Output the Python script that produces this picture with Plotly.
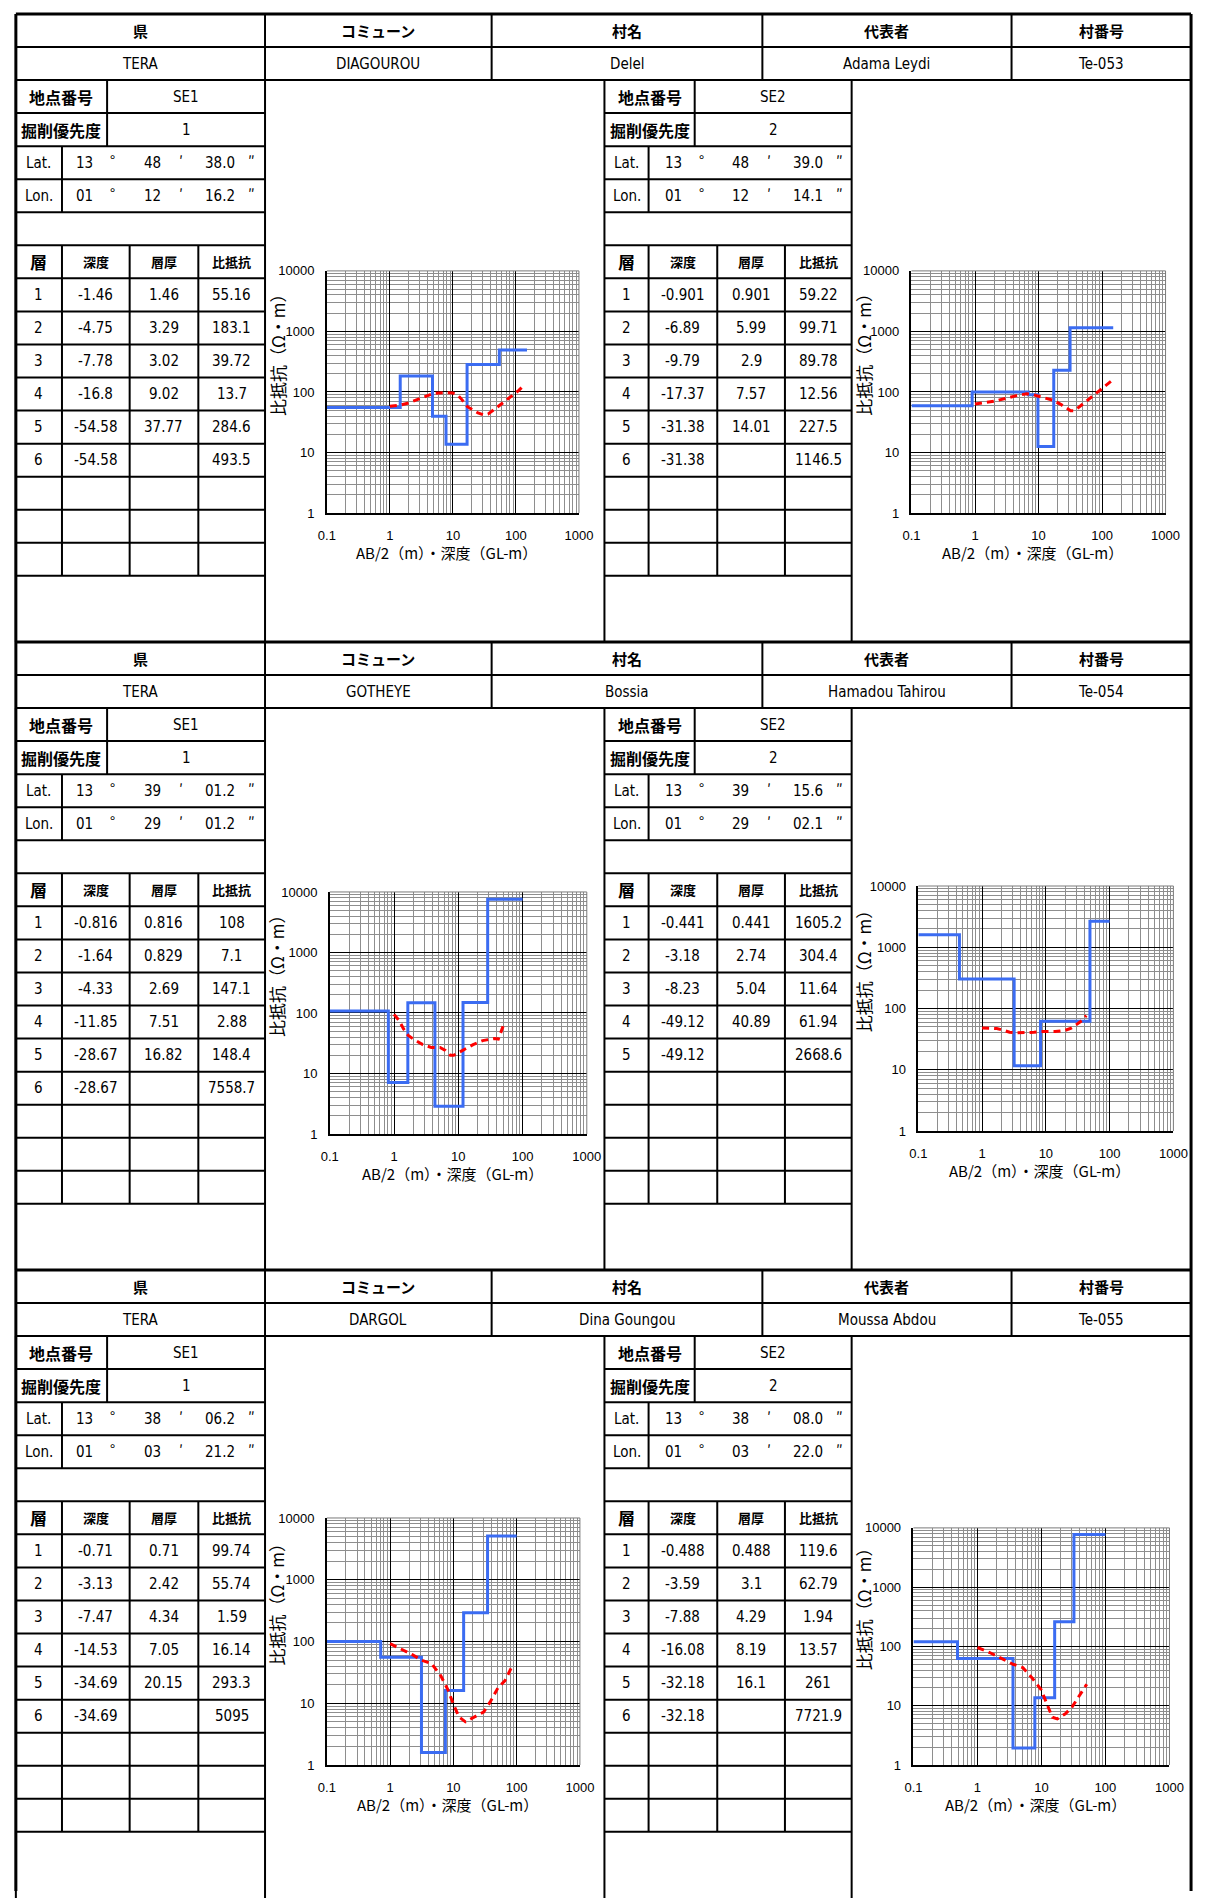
import plotly.graph_objects as go

W, H = 1208, 1899

# ---------------- sheet header values (one per village) ----------------
PREFECTURE = ["TERA", "TERA", "TERA"]
COMMUNE = ["DIAGOUROU", "GOTHEYE", "DARGOL"]
VILLAGE = ["Delel", "Bossia", "Dina Goungou"]
REPRESENTATIVE = ["Adama Leydi", "Hamadou Tahirou", "Moussa Abdou"]
VILLAGE_NO = ["Te-053", "Te-054", "Te-055"]
HEAD_LABELS = ["県", "コミューン", "村名", "代表者", "村番号"]

# ---------------- sounding points: Te-053 SE1/SE2, Te-054 SE1/SE2, Te-055 SE1/SE2 ----------------
SITE = ["SE1", "SE2", "SE1", "SE2", "SE1", "SE2"]
PRIORITY = [1, 2, 1, 2, 1, 2]
LAT = [("13", "48", "38.0"), ("13", "48", "39.0"),
       ("13", "39", "01.2"), ("13", "39", "15.6"),
       ("13", "38", "06.2"), ("13", "38", "08.0")]
LON = [("01", "12", "16.2"), ("01", "12", "14.1"),
       ("01", "29", "01.2"), ("01", "29", "02.1"),
       ("01", "03", "21.2"), ("01", "03", "22.0")]

# layered-earth model: depth (GL-m), thickness (m), resistivity (ohm-m)
DEPTH = [
    [-1.46, -4.75, -7.78, -16.8, -54.58, -54.58],
    [-0.901, -6.89, -9.79, -17.37, -31.38, -31.38],
    [-0.816, -1.64, -4.33, -11.85, -28.67, -28.67],
    [-0.441, -3.18, -8.23, -49.12, -49.12],
    [-0.71, -3.13, -7.47, -14.53, -34.69, -34.69],
    [-0.488, -3.59, -7.88, -16.08, -32.18, -32.18],
]
THICKNESS = [
    [1.46, 3.29, 3.02, 9.02, 37.77, None],
    [0.901, 5.99, 2.9, 7.57, 14.01, None],
    [0.816, 0.829, 2.69, 7.51, 16.82, None],
    [0.441, 2.74, 5.04, 40.89, None],
    [0.71, 2.42, 4.34, 7.05, 20.15, None],
    [0.488, 3.1, 4.29, 8.19, 16.1, None],
]
RESISTIVITY = [
    [55.16, 183.1, 39.72, 13.7, 284.6, 493.5],
    [59.22, 99.71, 89.78, 12.56, 227.5, 1146.5],
    [108, 7.1, 147.1, 2.88, 148.4, 7558.7],
    [1605.2, 304.4, 11.64, 61.94, 2668.6],
    [99.74, 55.74, 1.59, 16.14, 293.3, 5095],
    [119.6, 62.79, 1.94, 13.57, 261, 7721.9],
]
AB2_MAX = [150, 150, 100, 100, 100, 100]

# measured apparent resistivity curves (AB/2 in m, rho_a in ohm-m)
AB2 = [
    [1, 1.5, 2, 3, 4, 5, 7, 10, 12, 14, 17, 20, 25, 30, 36, 45, 55, 70, 90, 110, 130],
    [1, 1.5, 2, 3, 4.5, 6.5, 8, 10, 13, 17, 22, 27, 32, 37, 45, 55, 70, 90, 115, 150],
    [1, 1.2, 1.4, 1.65, 2, 2.8, 3.8, 5.2, 6.3, 7.5, 8.5, 10, 13, 17, 24, 30, 37, 42, 46, 50],
    [1, 1.3, 1.7, 2.2, 2.7, 3.5, 4.9, 6.5, 7.8, 10, 14, 20, 25, 29, 33, 37, 43],
    [1, 1.5, 2.2, 3.1, 4.5, 6.3, 8.1, 10.2, 12.3, 15.5, 21, 30, 38, 51, 65, 83],
    [1, 1.55, 2.5, 3.6, 5.1, 7.2, 9.8, 12.3, 14.8, 17.7, 23.6, 30, 38, 51],
]
APP_RES = [
    [58, 61, 66, 77, 88, 95, 97, 96, 88, 74, 57, 51, 45, 42, 43, 51, 60, 72, 88, 105, 125],
    [63, 66, 70, 78, 87, 93, 91, 85, 79, 73, 63, 54, 49, 49, 58, 70, 84, 104, 128, 160],
    [95, 75, 55, 43, 37, 30, 27, 27, 24, 20, 20, 22, 26, 30, 35, 37, 38, 37, 47, 61],
    [48, 48, 47, 44, 41, 40, 40, 41, 42, 42, 42, 44, 48, 53, 58, 64, 77],
    [92, 75, 62, 50, 44, 28, 17, 9.2, 6.0, 5.0, 6.0, 7.2, 10.4, 18, 23, 38],
    [96, 79, 61, 50, 44, 29, 19, 10.8, 6.4, 6.0, 7.3, 9.5, 14, 23],
]

X_TICKS = [0.1, 1, 10, 100, 1000]
X_TICK_TEXT = ["0.1", "1", "10", "100", "1000"]
Y_TICKS = [1, 10, 100, 1000, 10000]
Y_TICK_TEXT = ["1", "10", "100", "1000", "10000"]

# ---------------- page geometry (pixels) ----------------
BLOCK_TOP = [7, 640, 1273]
ROW_H = 633 / 19
HEAD_X = [7, 261, 492, 768, 1022, 1205]
TABLE_X = [[7, 54, 123, 193, 261], [607, 652, 722, 791, 859]]
ID_SPLIT = [100, 699]
COORD_OFFSETS = [70, 99, 139, 168, 208, 240]
CHART_BOX = [(324, 581, 266, 510), (920, 1179, 266, 510),
             (327, 589, 892, 1136), (927, 1187, 886, 1133),
             (324, 582, 1523, 1772), (922, 1183, 1533, 1772)]

JP = "Noto Sans CJK JP"
NARROW = "Liberation Sans Narrow, Arial Narrow, DejaVu Sans Condensed, sans-serif"
TICK_FONT = "Liberation Sans, Arial, sans-serif"
BLUE = "#3b6cf2"
RED = "#ff0000"
GRID = "#8e8e8e"


def P(x):
    return x / W


def Q(y):
    return 1 - y / H


shapes = []
annotations = []


def seg(x0, y0, x1, y1, w=2):
    shapes.append(dict(type="line", xref="paper", yref="paper",
                       x0=P(x0), y0=Q(y0), x1=P(x1), y1=Q(y1),
                       line=dict(color="black", width=w), layer="above"))


def label(x, y, s, size=16, family=NARROW, bold=False, angle=0):
    annotations.append(dict(x=P(x), y=Q(y), xref="paper", yref="paper",
                            text=f"<b>{s}</b>" if bold else s, showarrow=False,
                            xanchor="center", yanchor="middle", textangle=angle,
                            font=dict(family=family, size=size, color="black")))


def fmt(v):
    return "" if v is None else f"{v:g}"


# ---------------- sheet frames and tables ----------------
for b, top in enumerate(BLOCK_TOP):
    r = lambda i: top + i * ROW_H
    seg(7, top, 1205, top, 3)
    seg(7, r(1), 1205, r(1))
    seg(7, r(2), 1205, r(2))
    for xs in HEAD_X[1:-1]:
        seg(xs, r(0), xs, r(2))
    values = [PREFECTURE[b], COMMUNE[b], VILLAGE[b], REPRESENTATIVE[b], VILLAGE_NO[b]]
    for c in range(5):
        xc = (HEAD_X[c] + HEAD_X[c + 1]) / 2
        label(xc, (r(0) + r(1)) / 2, HEAD_LABELS[c], size=15, family=JP, bold=True)
        label(xc, (r(1) + r(2)) / 2, values[c], size=15)

    for t in range(2):
        s = 2 * b + t
        tx = TABLE_X[t]
        x0, x4 = tx[0], tx[-1]
        for i in range(3, 18):
            seg(x0, r(i), x4, r(i))
        seg(x0, r(2), x0, r(19))
        seg(x4, r(2), x4, r(19))
        seg(ID_SPLIT[t], r(2), ID_SPLIT[t], r(4))
        seg(tx[1], r(4), tx[1], r(6))
        for xs in tx[1:4]:
            seg(xs, r(7), xs, r(17))

        mid = lambda i: (r(i) + r(i + 1)) / 2
        label((x0 + ID_SPLIT[t]) / 2, mid(2), "地点番号", size=16, family=JP, bold=True)
        label((ID_SPLIT[t] + x4) / 2, mid(2), SITE[s], size=15)
        label((x0 + ID_SPLIT[t]) / 2, mid(3), "掘削優先度", size=16, family=JP, bold=True)
        label((ID_SPLIT[t] + x4) / 2, mid(3), str(PRIORITY[s]), size=15)
        for row, name, coords in ((4, "Lat.", LAT[s]), (5, "Lon.", LON[s])):
            label((x0 + tx[1]) / 2, mid(row), name, size=15)
            parts = [coords[0], "°", coords[1], "′", coords[2], "″"]
            for off, part in zip(COORD_OFFSETS, parts):
                if part[0].isdigit():
                    label(x0 + off, mid(row), part, size=15)
                else:
                    label(x0 + off, mid(row) - 3, part, size=14, family=JP)
        heads = ["層", "深度", "層厚", "比抵抗"]
        for c in range(4):
            xc = (tx[c] + tx[c + 1]) / 2
            if c == 0:
                label(xc, mid(7), heads[c], size=17, family=JP, bold=True)
            else:
                label(xc, mid(7), heads[c], size=13, family=JP, bold=True)
        for k in range(len(RESISTIVITY[s])):
            cells = [str(k + 1), fmt(DEPTH[s][k]), fmt(THICKNESS[s][k]), fmt(RESISTIVITY[s][k])]
            for c in range(4):
                label((tx[c] + tx[c + 1]) / 2, mid(8 + k), cells[c], size=15)

# outer border
seg(7, 7, 7, H, 3)
seg(1205, 7, 1205, H, 3)

# ---------------- resistivity charts ----------------
fig = go.Figure()
minor_x = [m * 10 ** e for e in range(-1, 3) for m in range(2, 10)]
minor_y = [m * 10 ** e for e in range(0, 4) for m in range(2, 10)]
layout_axes = {}

for s in range(6):
    n = s + 1
    xa = "x" if n == 1 else f"x{n}"
    ya = "y" if n == 1 else f"y{n}"
    x0, x1, y0, y1 = CHART_BOX[s]

    bounds = [abs(d) for d in DEPTH[s][:-1]]
    step_x = [0.1] + bounds + [AB2_MAX[s]]
    step_y = RESISTIVITY[s] + [RESISTIVITY[s][-1]]
    fig.add_trace(go.Scatter(x=step_x, y=step_y, mode="lines",
                             line=dict(color=BLUE, width=3, shape="hv"),
                             xaxis=xa, yaxis=ya, hoverinfo="skip"))
    fig.add_trace(go.Scatter(x=AB2[s], y=APP_RES[s], mode="lines",
                             line=dict(color=RED, width=3, dash="7px,5px"),
                             xaxis=xa, yaxis=ya, hoverinfo="skip"))

    common = dict(type="log", showgrid=True, gridcolor="black", gridwidth=1,
                  ticks="outside", tickcolor="rgba(0,0,0,0)", showline=True,
                  linecolor="black", mirror=False, zeroline=False, fixedrange=True,
                  tickfont=dict(family=TICK_FONT, size=13, color="black"))
    layout_axes["xaxis" if n == 1 else f"xaxis{n}"] = dict(
        common, domain=[P(x0), P(x1)], anchor=ya, range=[-1, 3],
        tickmode="array", tickvals=X_TICKS, ticktext=X_TICK_TEXT, ticklen=9,
        linewidth=2,
        minor=dict(tickmode="array", tickvals=minor_x, showgrid=True,
                   gridcolor=GRID, gridwidth=1))
    layout_axes["yaxis" if n == 1 else f"yaxis{n}"] = dict(
        common, domain=[Q(y1), Q(y0)], anchor=xa, range=[0, 4],
        tickmode="array", tickvals=Y_TICKS, ticktext=Y_TICK_TEXT, ticklen=8,
        linewidth=1.5,
        minor=dict(tickmode="array", tickvals=minor_y, showgrid=True,
                   gridcolor=GRID, gridwidth=1))

    # lighter frame on the top and right edges of the plot area
    for (a, b_, c, d) in ((0, 1, 1, 1), (1, 0, 1, 1)):
        shapes.append(dict(type="line", xref=f"{xa} domain", yref=f"{ya} domain",
                           x0=a, y0=b_, x1=c, y1=d,
                           line=dict(color="#7a7a7a", width=1), layer="above"))

    label((x0 + x1) / 2 - 6, y1 + 40, "AB/2（m）・深度（GL-m）", size=15, family=JP)
    table_right = TABLE_X[s % 2][-1]
    label(table_right + 12, (y0 + y1) / 2 - 42, "比抵抗（Ω・m）", size=17, family=JP, angle=-90)

fig.update_layout(
    width=W, height=H, autosize=False,
    margin=dict(l=0, r=0, t=0, b=0, pad=0),
    paper_bgcolor="white", plot_bgcolor="white",
    showlegend=False,
    shapes=shapes, annotations=annotations,
    **layout_axes,
)

fig.write_html("out.html")
